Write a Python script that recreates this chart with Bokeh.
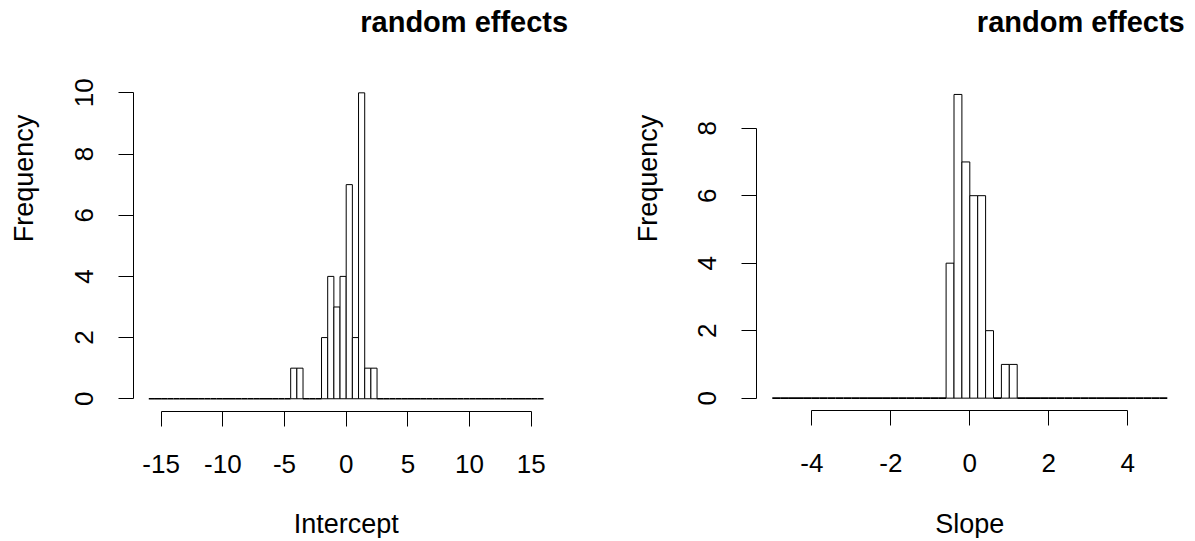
import math
from bokeh.plotting import figure
from bokeh.layouts import row
from bokeh.models import (Range1d, FixedTicker, Label, ColumnDataSource,
                          CustomJSTickFormatter)
from bokeh.embed import file_html
from bokeh.resources import INLINE

# ---- data: Intercept histogram (breaks -16..16, width 0.5)
intercept_break_start = -16.0
intercept_bin_width = 0.5
intercept_counts = [0, 0, 0, 0, 0, 0, 0, 0, 0, 0, 0, 0, 0, 0, 0, 0,
                    0, 0, 0, 0, 0, 0, 0, 1, 1, 0, 0, 0, 2, 4, 3, 4,
                    7, 2, 10, 1, 1, 0, 0, 0, 0, 0, 0, 0, 0, 0, 0, 0,
                    0, 0, 0, 0, 0, 0, 0, 0, 0, 0, 0, 0, 0, 0, 0, 0]
intercept_xticks = [-15, -10, -5, 0, 5, 10, 15]
intercept_yticks = [0, 2, 4, 6, 8, 10]

# ---- data: Slope histogram (breaks -5..5, width 0.2)
slope_break_start = -5.0
slope_bin_width = 0.2
slope_counts = [0, 0, 0, 0, 0, 0, 0, 0, 0, 0, 0, 0, 0, 0, 0, 0, 0,
                0, 0, 0, 0, 0, 4, 9, 7, 6, 6, 2, 0, 1, 1, 0, 0, 0,
                0, 0, 0, 0, 0, 0, 0, 0, 0, 0, 0, 0, 0, 0, 0, 0]
slope_xticks = [-4, -2, 0, 2, 4]
slope_yticks = [0, 2, 4, 6, 8]

title_text = "random effects"
ylabel_text = "Frequency"

FONT = "Liberation Sans"
HEIGHT = 538


def make_hist(counts, start, width, xticks, yticks, xlabel, ylim_top,
              fig_left, fig_width, frame_left, frame_right,
              frame_top, frame_bottom, title_shift):
    """frame_* : pixel box of the R-style plot region on the page."""
    n = len(counts)
    lefts = [start + i * width for i in range(n)]
    rights = [start + (i + 1) * width for i in range(n)]
    xlo, xhi = lefts[0], rights[-1]
    xpad = (xhi - xlo) * 0.04
    ypad = ylim_top * 0.04
    # data limits of the plot region (R style, 4% padding)
    dx0, dx1 = xlo - xpad, xhi + xpad
    dy0, dy1 = -ypad, ylim_top + ypad
    sx = (dx1 - dx0) / (frame_right - frame_left)   # data per px
    sy = (dy1 - dy0) / (frame_bottom - frame_top)

    def X(px):   # page px -> data x
        return dx0 + (px - frame_left) * sx

    def Y(py):   # page px -> data y
        return dy0 + (frame_bottom - py) * sy

    p = figure(frame_width=fig_width, frame_height=HEIGHT, min_border=0,
               x_range=Range1d(X(fig_left), X(fig_left + fig_width)),
               y_range=Range1d(Y(HEIGHT), Y(0)),
               output_backend="svg", toolbar_location=None)
    p.title.visible = False
    p.grid.visible = False
    p.outline_line_color = None
    p.background_fill_color = "white"
    p.border_fill_color = "white"

    zero = [i for i in range(n) if counts[i] == 0]
    nz = [i for i in range(n) if counts[i] != 0]
    src0 = ColumnDataSource(dict(left=[lefts[i] for i in zero],
                                 right=[rights[i] for i in zero],
                                 top=[counts[i] for i in zero],
                                 bottom=[0] * len(zero)))
    src1 = ColumnDataSource(dict(left=[lefts[i] for i in nz],
                                 right=[rights[i] for i in nz],
                                 top=[counts[i] for i in nz],
                                 bottom=[0] * len(nz)))
    p.quad(left="left", right="right", top="top", bottom="bottom",
           source=src0, fill_color="white", line_color="black",
           line_width=1.6)
    p.quad(left="left", right="right", top="top", bottom="bottom",
           source=src1, fill_color="white", line_color="black",
           line_width=1)

    fmt = CustomJSTickFormatter(code="return tick.toString();")
    for ax, ticks in ((p.xaxis[0], xticks), (p.yaxis[0], yticks)):
        ax.ticker = FixedTicker(ticks=ticks)
        ax.formatter = fmt
        ax.bounds = (ticks[0], ticks[-1])
        ax.axis_line_color = "black"
        ax.axis_line_width = 1
        ax.major_tick_line_color = "black"
        ax.major_tick_out = 15
        ax.major_tick_in = 0
        ax.minor_tick_line_color = None
        ax.major_label_text_font = FONT
        ax.major_label_text_font_size = "26px"
        ax.major_label_text_color = "black"

    p.xaxis.fixed_location = dy0
    p.yaxis.fixed_location = dx0
    p.xaxis.major_label_standoff = 29
    p.yaxis.major_label_orientation = "parallel"
    p.yaxis.major_label_standoff = 25

    common = dict(text_font=FONT, text_color="black")
    # x axis title
    p.add_layout(Label(x=X((frame_left + frame_right) / 2), y=Y(523),
                       text=xlabel, text_align="center",
                       text_baseline="middle", text_font_size="27px",
                       **common))
    # y axis title
    p.add_layout(Label(x=X(frame_left - 109), y=Y(178),
                       text=ylabel_text, angle=math.pi / 2,
                       text_align="center", text_baseline="middle",
                       text_font_size="27px", **common))
    # main title
    p.add_layout(Label(x=X((frame_left + frame_right) / 2 + title_shift),
                       y=Y(21), text=title_text, text_align="center",
                       text_baseline="alphabetic", text_font_size="29px",
                       text_font_style="bold", **common))
    return p


p1 = make_hist(intercept_counts, intercept_break_start, intercept_bin_width,
               intercept_xticks, intercept_yticks, "Intercept", 10,
               fig_left=0, fig_width=598, frame_left=132.5, frame_right=558.9,
               frame_top=80.1, frame_bottom=410.5, title_shift=118)
p2 = make_hist(slope_counts, slope_break_start, slope_bin_width,
               slope_xticks, slope_yticks, "Slope", 9,
               fig_left=598, fig_width=592, frame_left=756.0,
               frame_right=1182.6, frame_top=81.8, frame_bottom=409.8,
               title_shift=111)

layout = row(p1, p2)
open("out.html", "w").write(file_html(layout, INLINE))
